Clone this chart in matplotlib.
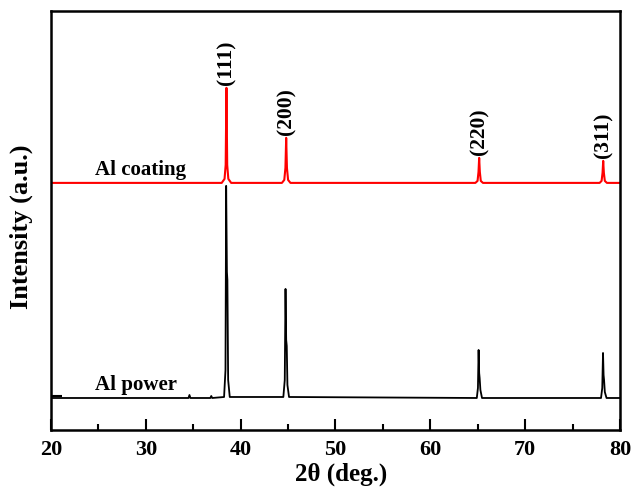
import matplotlib.pyplot as plt

# XRD-Daten (willkuerliche Intensitaet)
coating_x = [20, 38.0, 38.3, 38.42, 38.5, 38.58, 38.7, 39.0,
             44.35, 44.6, 44.72, 44.8, 44.88, 45.0, 45.25,
             64.75, 64.98, 65.08, 65.15, 65.22, 65.32, 65.55,
             77.85, 78.06, 78.16, 78.23, 78.3, 78.4, 78.62, 80]
coating_y = [247, 247, 251, 265, 342, 265, 251, 247,
             247, 250, 262, 292, 262, 250, 247,
             247, 249, 258, 272, 258, 249, 247,
             247, 249, 257, 269, 257, 249, 247, 247]

powder_x = [20, 34.5, 34.6, 34.7, 36.8, 36.9, 37.0, 38.25, 38.4, 38.47, 38.55, 38.6, 38.68, 38.85,
            44.5, 44.65, 44.73, 44.8, 44.86, 44.93, 45.1,
            64.9, 65.02, 65.09, 65.15, 65.2, 65.28, 65.45,
            78.0, 78.13, 78.21, 78.27, 78.32, 78.4, 78.58, 80]
powder_y = [32, 32, 35, 32, 32, 34, 32, 33, 60, 244, 158, 150, 50, 33,
            33, 50, 141, 90, 84, 45, 33,
            32, 42, 80, 57, 52, 40, 32,
            32, 42, 77, 55, 50, 38, 32, 32]

peak_pos = [38.5, 44.8, 65.15, 78.23]
peak_top = [342, 292, 272, 269]
peak_labels = ['(111)', '(200)', '(220)', '(311)']

plt.rcParams['font.family'] = ['Liberation Serif', 'DejaVu Serif']
plt.rcParams['font.weight'] = 'bold'

fig = plt.figure(figsize=(6.32, 4.92), dpi=100)
ax = fig.add_axes([0.0807, 0.126, 0.9003, 0.852])

ax.plot(powder_x, powder_y, color='black', lw=1.3)
ax.plot(coating_x, coating_y, color='red', lw=1.5)

for p, t, s in zip(peak_pos, peak_top, peak_labels):
    ax.text(p, t + 3, s, rotation=90, ha='center', va='bottom',
            fontsize=15.5, fontweight='bold')

ax.text(24.6, 255, 'Al coating', fontsize=15, fontweight='bold')
ax.text(24.6, 40, 'Al power', fontsize=15, fontweight='bold')

ax.set_xlim(20, 80)
ax.set_ylim(0, 419)
ax.set_xticks(range(20, 81, 10))
ax.set_xticks(range(25, 80, 10), minor=True)
ax.set_yticks([34])
ax.set_yticklabels([])
ax.tick_params(axis='both', which='major', direction='in', length=8, width=1.5,
               labelsize=16, pad=7)
ax.tick_params(axis='x', which='minor', direction='in', length=4.5, width=1.5)
ax.tick_params(axis='y', length=8)
for sp in ax.spines.values():
    sp.set_linewidth(1.8)

ax.set_xlabel('2θ (deg.)', fontsize=18, fontweight='bold',
              ha='center', va='center')
ax.set_ylabel('Intensity (a.u.)', fontsize=19, fontweight='bold',
              ha='center', va='center')
ax.yaxis.set_label_coords(-0.053, 0.485)
ax.xaxis.set_label_coords(0.51, -0.105)

plt.savefig('out.png', dpi=100)
